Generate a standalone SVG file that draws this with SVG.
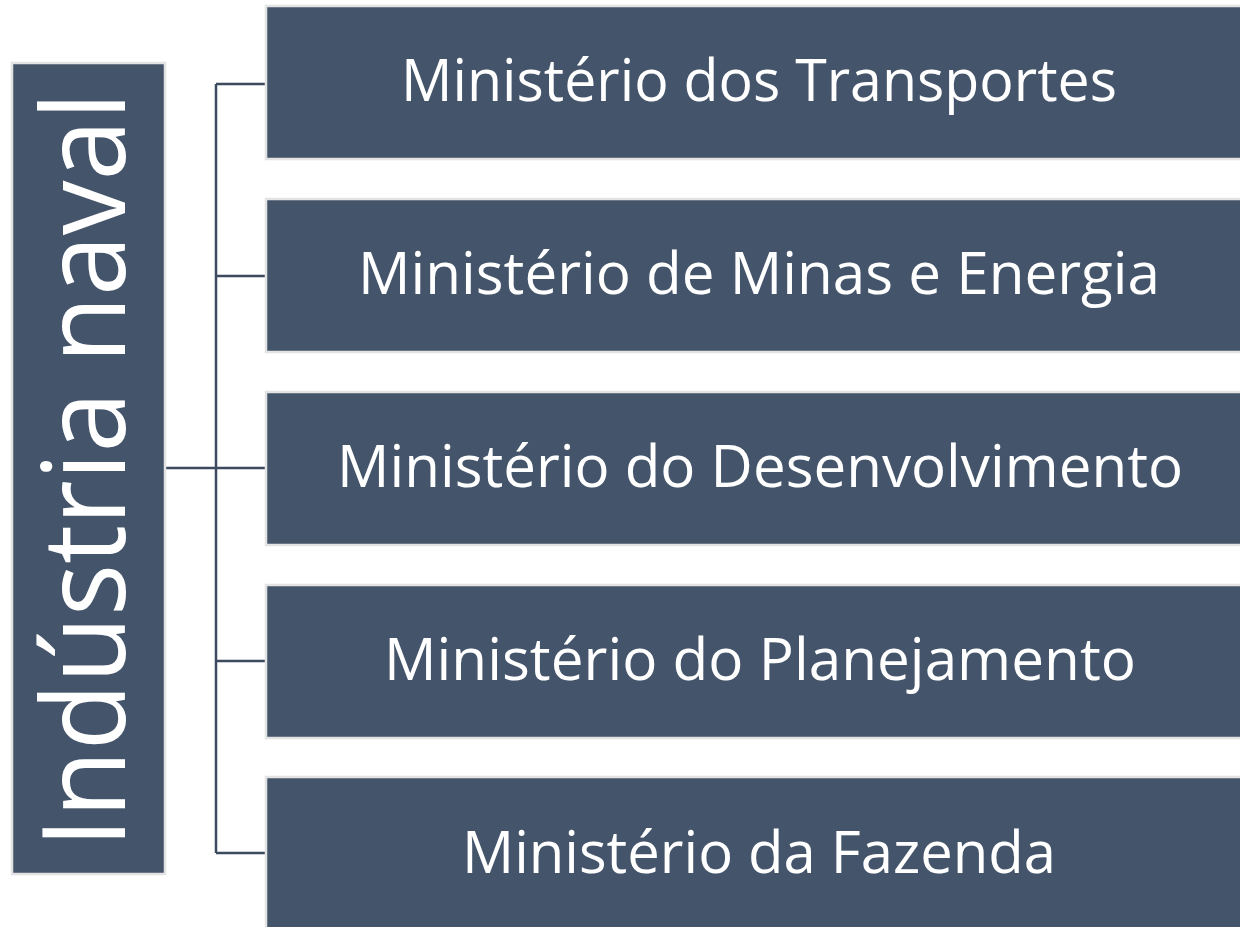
<svg xmlns="http://www.w3.org/2000/svg" width="1240" height="927" viewBox="0 0 1240 927">
<style>
.box{fill:#44546A;stroke:#E3E3E3;stroke-width:2.5}
.lbl{fill:#FFFFFF;font-family:"Open Sans","Noto Sans","Liberation Sans",sans-serif;font-size:58px;text-anchor:middle}
.big{fill:#FFFFFF;font-family:"Open Sans","Noto Sans","Liberation Sans",sans-serif;font-size:116px;text-anchor:middle}
.conn{fill:none;stroke:#3B4A5E;stroke-width:2.5}
</style>
<rect width="1240" height="927" fill="#FFFFFF"/>
<g id="connectors">
<path class="conn" d="M165 468 H216 M216 84 V853 M216 84 H266 M216 276 H266 M216 468 H266 M216 661 H266 M216 853 H266"/>
</g>
<g id="root">
<rect class="box" x="12" y="63" width="153" height="811"/>
<text class="big" transform="translate(125 470) rotate(-90)" textLength="756" lengthAdjust="spacingAndGlyphs">Indústria naval</text>
</g>
<g id="n1">
<rect class="box" x="266" y="6" width="990" height="153"/>
<text class="lbl" x="759" y="101" textLength="716" lengthAdjust="spacingAndGlyphs">Ministério dos Transportes</text>
</g>
<g id="n2">
<rect class="box" x="266" y="199" width="990" height="153"/>
<text class="lbl" x="759" y="294" textLength="802" lengthAdjust="spacingAndGlyphs">Ministério de Minas e Energia</text>
</g>
<g id="n3">
<rect class="box" x="266" y="392" width="990" height="153"/>
<text class="lbl" x="760" y="487" textLength="846" lengthAdjust="spacingAndGlyphs">Ministério do Desenvolvimento</text>
</g>
<g id="n4">
<rect class="box" x="266" y="585" width="990" height="153"/>
<text class="lbl" x="760" y="680" textLength="752" lengthAdjust="spacingAndGlyphs">Ministério do Planejamento</text>
</g>
<g id="n5">
<rect class="box" x="266" y="777" width="990" height="160"/>
<text class="lbl" x="759" y="873" textLength="594" lengthAdjust="spacingAndGlyphs">Ministério da Fazenda</text>
</g>
</svg>
